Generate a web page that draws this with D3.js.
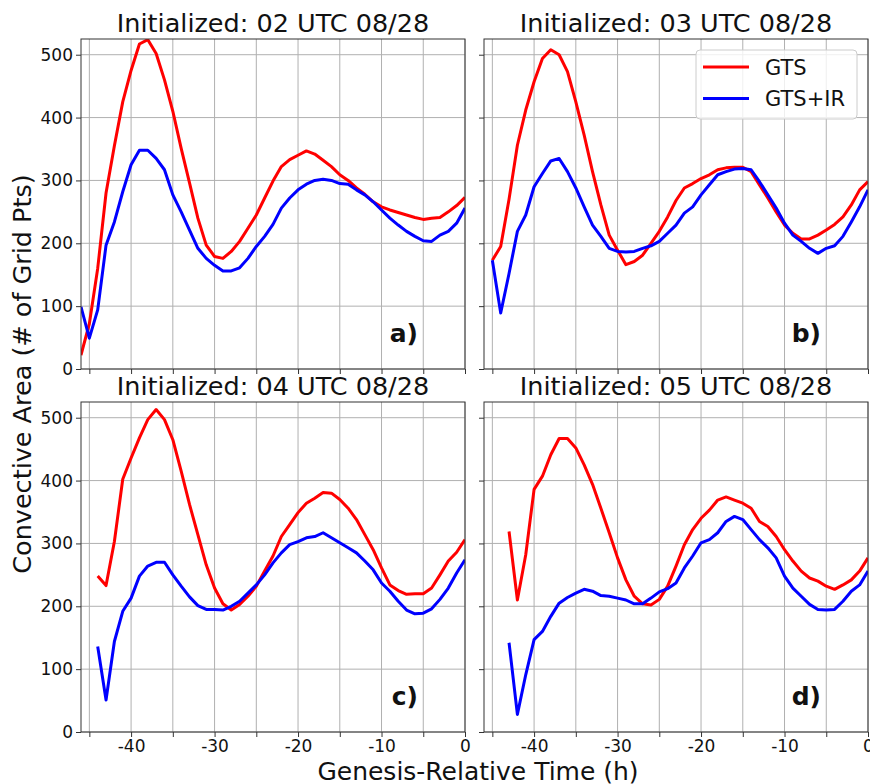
<!DOCTYPE html>
<html>
<head>
<meta charset="utf-8">
<script src="https://cdn.jsdelivr.net/npm/d3@7"></script>
<style>
  body { margin: 0; background: #fff; }
  svg text { font-family: "DejaVu Sans", sans-serif; fill: #111; }
</style>
</head>
<body>
<svg id="chart" width="870" height="784"></svg>
<script>
// 每个面板的起始小时（逐小时数据，到 0 h 结束）
var startHours = [-46, -45, -44, -43];
var titles = ["Initialized: 02 UTC 08/28", "Initialized: 03 UTC 08/28",
              "Initialized: 04 UTC 08/28", "Initialized: 05 UTC 08/28"];
var panelLabels = ["a)", "b)", "c)", "d)"];
var seriesNames = ["GTS", "GTS+IR"];
var xTicks = [-45, -40, -35, -30, -25, -20, -15, -10, -5, 0];
var yTicks = [0, 100, 200, 300, 400, 500];

var gtsA = [22, 72, 160, 280, 355, 425, 475, 517, 524, 502, 460, 410, 351, 296, 240, 197, 179, 176, 187, 203, 224, 245, 272, 299,
            322, 333, 340, 347, 342, 332, 322, 309, 300, 288, 278, 266, 258, 253, 249, 245, 241, 238, 240, 241, 250, 260, 273];
var irA  = [99, 49, 94, 197, 234, 282, 325, 348, 348, 335, 317, 277, 250, 221, 192, 176, 165, 156, 156, 161, 176, 195, 211, 230,
            256, 272, 285, 294, 300, 302, 300, 295, 294, 285, 277, 266, 253, 240, 229, 219, 211, 204, 203, 213, 219, 232, 256];

var gtsB = [173, 195, 270, 356, 412, 457, 494, 508, 500, 473, 425, 372, 314, 261, 213, 189, 166, 171, 181, 200, 219, 242, 268,
            288, 295, 303, 309, 317, 320, 321, 321, 314, 293, 272, 250, 229, 216, 207, 207, 213, 221, 230, 242, 261, 285, 298];
var irB  = [173, 89, 152, 219, 245, 290, 311, 331, 335, 314, 288, 258, 229, 211, 192, 187, 186, 187, 192, 196, 203, 216, 229,
            248, 258, 277, 293, 309, 314, 318, 319, 317, 298, 277, 256, 232, 213, 203, 192, 184, 192, 196, 211, 234, 258, 285];

var gtsC = [248, 233, 303, 402, 436, 468, 497, 513, 497, 465, 415, 362, 314, 266, 229, 204, 194, 203, 216, 232, 256, 280,
            311, 330, 349, 364, 372, 381, 380, 370, 356, 338, 314, 290, 261, 234, 225, 219, 220, 220, 229, 250, 272, 286, 306];
var irC  = [136, 51, 144, 192, 213, 248, 264, 270, 270, 250, 232, 215, 201, 195, 195, 194, 200, 208, 221, 234, 250, 269,
            285, 298, 303, 309, 311, 317, 309, 301, 293, 285, 272, 258, 237, 224, 208, 194, 188, 189, 196, 211, 229, 253, 274];

var gtsD = [319, 210, 282, 386, 407, 441, 467, 467, 452, 425, 394, 356, 317, 277, 242, 216, 204, 202, 211, 232, 264,
            298, 322, 340, 353, 369, 374, 369, 364, 356, 335, 327, 311, 290, 272, 256, 245, 240, 232, 227, 234, 242, 256, 277];
var irD  = [142, 28, 91, 147, 160, 184, 205, 214, 221, 227, 224, 217, 216, 213, 210, 204, 204, 213, 223, 228, 237,
            261, 280, 301, 306, 317, 335, 343, 338, 322, 306, 293, 277, 248, 229, 216, 203, 195, 194, 195, 208, 224, 234, 256];

var gtsSeries = [gtsA, gtsB, gtsC, gtsD];
var irSeries = [irA, irB, irC, irD];
var colors = ["#ff0000", "#0000ff"];

var svg = d3.select("#chart");
var panelW = 384, panelH = 330;
var lefts = [81, 484], tops = [39, 402];

var x = d3.scaleLinear().domain([-46, 0]).range([0, panelW]);
var y = d3.scaleLinear().domain([0, 525]).range([panelH, 0]);

var line = d3.line()
    .x(function (d) { return x(d.h); })
    .y(function (d) { return y(d.v); });

function toPoints(values, start) {
    return values.map(function (v, i) { return {h: start + i, v: v}; });
}

for (var p = 0; p < 4; p++) {
    var col = p % 2, row = Math.floor(p / 2);
    var g = svg.append("g")
        .attr("transform", "translate(" + lefts[col] + "," + tops[row] + ")");

    // 网格
    g.append("g").selectAll("line.gx")
        .data(xTicks).enter().append("line")
        .attr("x1", function (d) { return x(d); })
        .attr("x2", function (d) { return x(d); })
        .attr("y1", 0).attr("y2", panelH)
        .attr("stroke", "#b0b0b0").attr("stroke-width", 1);
    g.append("g").selectAll("line.gy")
        .data(yTicks).enter().append("line")
        .attr("x1", 0).attr("x2", panelW)
        .attr("y1", function (d) { return y(d); })
        .attr("y2", function (d) { return y(d); })
        .attr("stroke", "#b0b0b0").attr("stroke-width", 1);

    // 坐标轴
    var xAxis = d3.axisBottom(x).tickValues(xTicks).tickSize(5).tickPadding(3)
        .tickFormat(function (d) { return (row === 1 && d % 10 === 0) ? String(d) : ""; });
    var yAxis = d3.axisLeft(y).tickValues(yTicks).tickSize(5).tickPadding(3)
        .tickFormat(function (d) { return col === 0 ? String(d) : ""; });

    var gx = g.append("g").attr("transform", "translate(0," + panelH + ")").call(xAxis);
    var gy = g.append("g").call(yAxis);
    [gx, gy].forEach(function (a) {
        a.select(".domain").remove();
        a.selectAll(".tick line").attr("stroke", "#333");
        a.selectAll(".tick text")
            .filter(function () { return this.textContent === ""; })
            .remove();
        a.selectAll(".tick text").attr("font-size", "17px").attr("fill", "#222")
            .style("font-family", "DejaVu Sans");
    });

    // 曲线
    var clipId = "clip" + p;
    g.append("clipPath").attr("id", clipId)
        .append("rect").attr("width", panelW).attr("height", panelH);

    [gtsSeries[p], irSeries[p]].forEach(function (vals, k) {
        g.append("path")
            .datum(toPoints(vals, startHours[p]))
            .attr("d", line)
            .attr("clip-path", "url(#" + clipId + ")")
            .attr("fill", "none")
            .attr("stroke", colors[k])
            .attr("stroke-width", 3)
            .attr("stroke-linejoin", "round");
    });

    // 边框
    g.append("rect")
        .attr("width", panelW).attr("height", panelH)
        .attr("fill", "none").attr("stroke", "#333").attr("stroke-width", 1);

    g.append("text")
        .attr("x", panelW / 2).attr("y", -7)
        .attr("text-anchor", "middle")
        .attr("font-size", "25.5px")
        .text(titles[p]);

    g.append("text")
        .attr("x", panelW - 47).attr("y", 303)
        .attr("text-anchor", "end")
        .attr("font-size", "25px")
        .attr("font-weight", "bold")
        .text(panelLabels[p]);

    // 图例只放在 b)
    if (p === 1) {
        var lg = g.append("g").attr("transform", "translate(212,11)");
        lg.append("rect")
            .attr("width", 161).attr("height", 69).attr("rx", 4)
            .attr("fill", "#fff").attr("fill-opacity", 0.8)
            .attr("stroke", "#ccc");
        seriesNames.forEach(function (name, k) {
            var yy = 17 + k * 31.5;
            lg.append("line")
                .attr("x1", 7).attr("x2", 53).attr("y1", yy).attr("y2", yy)
                .attr("stroke", colors[k]).attr("stroke-width", 3);
            lg.append("text")
                .attr("x", 69).attr("y", yy + 7.5)
                .attr("font-size", "21px")
                .text(name);
        });
    }
}

svg.append("text")
    .attr("x", 478).attr("y", 780)
    .attr("text-anchor", "middle")
    .attr("font-size", "25px")
    .text("Genesis-Relative Time (h)");

svg.append("text")
    .attr("transform", "translate(31,374) rotate(-90)")
    .attr("text-anchor", "middle")
    .attr("font-size", "25.5px")
    .text("Convective Area (# of Grid Pts)");
</script>
</body>
</html>
